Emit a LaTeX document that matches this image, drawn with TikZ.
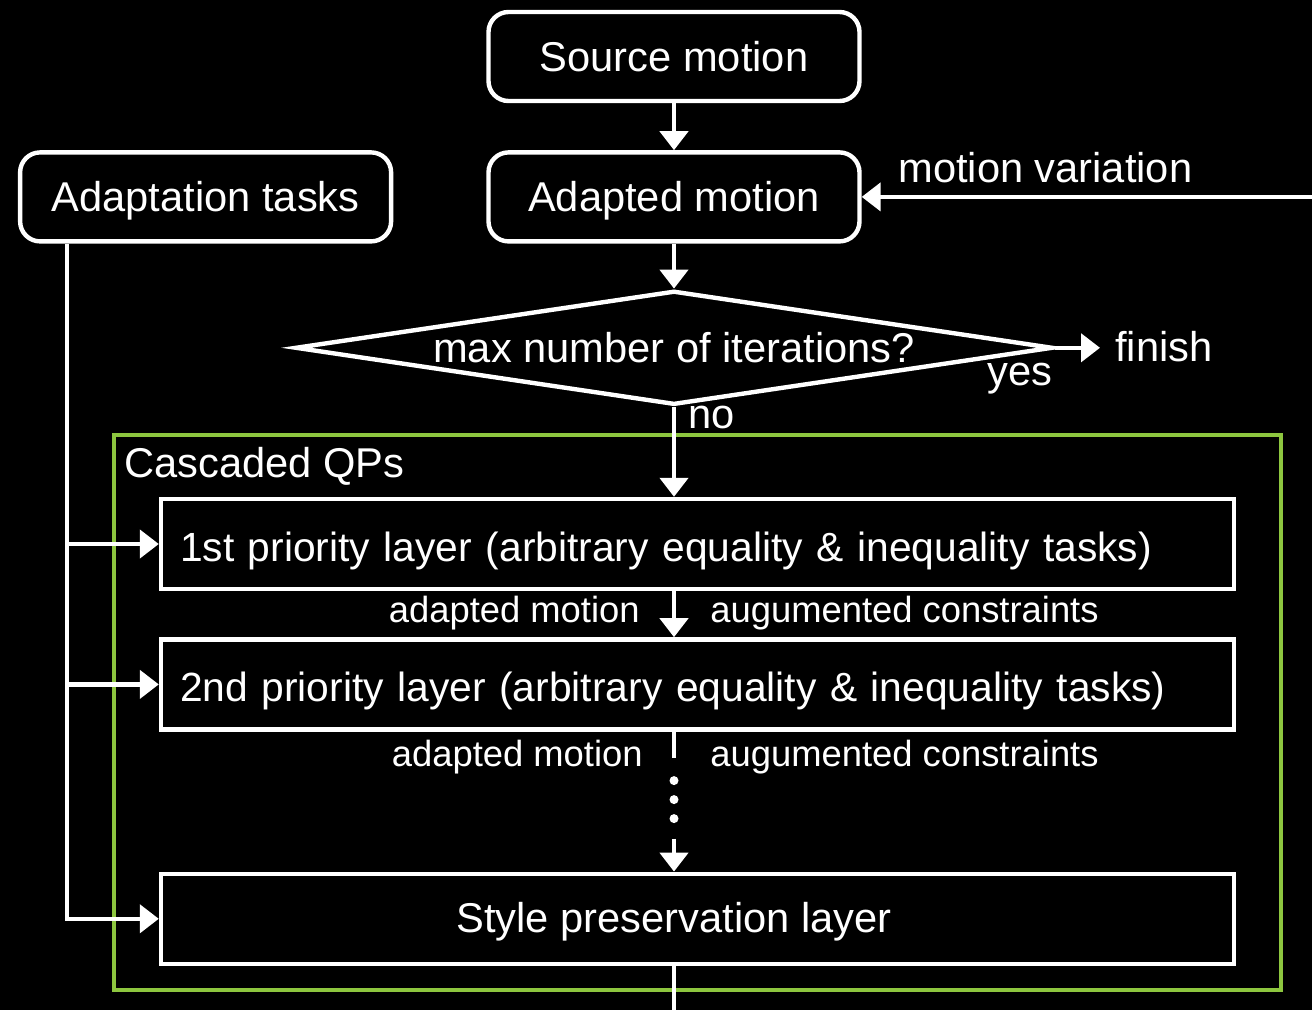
\documentclass[tikz,border=0pt]{standalone}
\usepackage{fontspec}
\setmainfont{Liberation Sans}
\usetikzlibrary{positioning,shapes.geometric,arrows.meta,calc}
\definecolor{qpgreen}{RGB}{141,198,63}
\tikzset{
block/.style={
draw=white,
line width=2.5pt,
rounded corners=0.4cm,
text=white,
text height=0.72cm,text depth=0.14cm,
minimum width=7.42cm,minimum height=1.78cm,
font={\fontsize{23.7pt}{28pt}\selectfont}},
layer/.style={
draw=white,
line width=2.5pt,
text=white,
text width=20.7cm,inner xsep=0.38cm,minimum height=1.8cm,align=left,
text height=0.84cm,text depth=0.14cm,
font={\fontsize{23.2pt}{28pt}\selectfont}},
decision/.style={
diamond,draw=white,
line width=2.5pt,
text=white,aspect=6.9,inner sep=0pt,
minimum width=15.15cm,minimum height=2.28cm,
font={\fontsize{23.7pt}{28pt}\selectfont}},
wire/.style={draw=white,line width=2.5pt},
line/.style={wire,-{Triangle[width=0.56cm,length=0.38cm]}},
txt/.style={text=white,inner sep=0pt,font={\fontsize{23.7pt}{28pt}\selectfont}},
small/.style={text=white,inner sep=0pt,font={\fontsize{20.7pt}{24pt}\selectfont}}
}
\begin{document}
\begin{tikzpicture}
  \fill[black] (0,0) rectangle (26.24,-20.2);
  \useasboundingbox (0,0) rectangle (26.24,-20.2);
  \node[block] (src) at (13.48,-1.13) {Source motion};
  \node[block, below=0.94cm of src] (adp) {Adapted motion};
  \node[block, left=1.86cm of adp] (ada) {Adaptation tasks};
  \node[decision, below=0.9cm of adp] (dia) {max number of iterations?};
  \node[txt, anchor=base west, inner xsep=0.3cm] (fin) at (22.0,-7.22) {finish};
  \node[txt, anchor=base west] (yes) at (19.74,-7.7) {yes};
  \node[txt, anchor=base west] (no) at (13.76,-8.56) {no};
  %\coordinate [right=of adp] (mv_in);
  \coordinate (mv) at (26.24,0);
  \coordinate (bus) at (1.34,0);
  \coordinate (out) at (13.48,-20.2);
  \node[txt, anchor=base west] (mvl) at (17.96,-3.64) {motion variation};
  % cascaded QPs
  \draw[qpgreen, line width=2.8pt] (2.28,-8.7) rectangle (25.62,-19.8);
  \node[txt, anchor=base west] (qp) at (2.48,-9.54) {Cascaded QPs};
  \node[layer] (l1) at (13.95,-10.88) {1st priority layer (arbitrary equality \& inequality tasks)};
  \node[layer, below=0.92cm of l1] (l2) {2nd priority layer (arbitrary equality \& inequality tasks)};
  \node[layer, below=2.8cm of l2] (l3) {};
  \node[txt, text height=0.7cm, text depth=0.14cm] (l3txt) at (l3.center -| dia) {Style preservation layer};
  \node[small, anchor=base east] (am1) at (12.8,-12.44) {adapted motion};
  \node[small, anchor=base west] (ac1) at (14.2,-12.44) {augumented constraints};
  \node[small, anchor=base east] (am2) at (12.86,-15.32) {adapted motion};
  \node[small, anchor=base west] (ac2) at (14.2,-15.32) {augumented constraints};
  \draw[line] (src) -- (adp);
  \draw[line] (adp) -- (dia);
  \draw[line] (adp.east -| mv) -- (adp.east);
  \draw[line] (dia.east) -- (dia.east -| fin.west);
  \draw[line] (dia.south) -- (l1.north -| dia);
  \draw[line] (l1.south -| dia) -- (l2.north -| dia);
  \draw[wire] (l2.south -| dia) -- ($(l2.south -| dia)+(0,-0.52)$);
  \foreach \y in {-0.98,-1.36,-1.74}
    \fill[white] ($(l2.south -| dia)+(0,\y)$) circle (0.09cm);
  \draw[line] ($(l2.south -| dia)+(0,-2.14)$) -- (l3.north -| dia);
  \draw[wire] (l3.south -| dia) -- (out);
  \draw[line] (ada.south -| bus) |- (l3.west);
  \draw[line] (bus |- l1.west) -- (l1.west);
  \draw[line] (bus |- l2.west) -- (l2.west);
\end{tikzpicture}
\end{document}
